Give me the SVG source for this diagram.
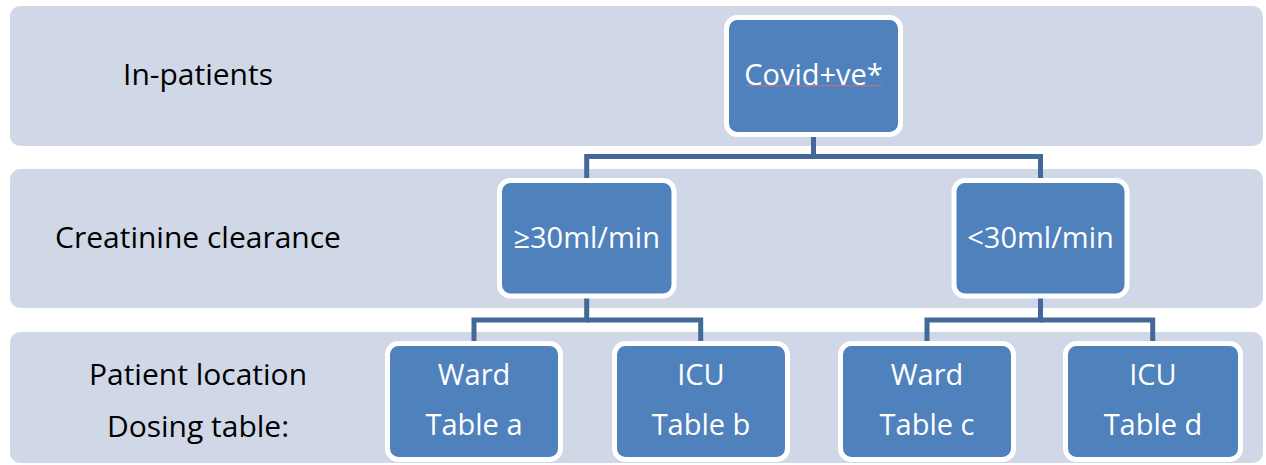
<svg xmlns="http://www.w3.org/2000/svg" width="1266" height="465" viewBox="0 0 1266 465">
<style>
.band{fill:#D0D8E8}
.lbl{font-family:"Open Sans","Noto Sans","Liberation Sans",sans-serif;font-size:30px;fill:#000;text-anchor:middle}
.box{fill:#4F81BD;stroke:#FFFFFF;stroke-width:5}
.txt{font-family:"Open Sans","Noto Sans","Liberation Sans",sans-serif;font-size:29px;fill:#FFFFFF;text-anchor:middle}
.con{fill:none;stroke:#42699A;stroke-width:5;stroke-linejoin:miter}
</style>
<rect width="1266" height="465" fill="#FFFFFF"/>
<g id="bands">
<rect class="band" x="10" y="6" width="1253" height="140" rx="10"/>
<rect class="band" x="10" y="169" width="1253" height="139" rx="10"/>
<rect class="band" x="10" y="332" width="1253" height="131" rx="10"/>
<text class="lbl" x="198" y="85">In-patients</text>
<text class="lbl" x="198" y="248">Creatinine clearance</text>
<text class="lbl" x="198" y="385">Patient location</text>
<text class="lbl" x="198" y="437">Dosing table:</text>
</g>
<g id="connectors">
<path class="con" d="M813.5 137 V156.5 H1040.5 V178"/>
<path class="con" d="M813.5 156.5 H586.7 V178"/>
<path class="con" d="M586.7 298 V320 H474 V341"/>
<path class="con" d="M586.7 320 H700.7 V341"/>
<path class="con" d="M1040.5 298 V320 H927 V341"/>
<path class="con" d="M1040.5 320 H1152.7 V341"/>
</g>
<g id="node-covid">
<rect class="box" x="726.5" y="17.5" width="174" height="117" rx="11"/>
<text class="txt" x="813.5" y="85">Covid+ve*</text>
<line x1="746" y1="85.8" x2="882" y2="85.8" stroke="#C9748A" stroke-width="1"/>
</g>
<g id="node-ge30">
<rect class="box" x="499.5" y="180.5" width="174.5" height="115.5" rx="11"/>
<text class="txt" x="586.7" y="248">≥30ml/min</text>
</g>
<g id="node-lt30">
<rect class="box" x="954" y="180.5" width="173" height="115.5" rx="11"/>
<text class="txt" x="1040.5" y="248">&lt;30ml/min</text>
</g>
<g id="node-ward-a">
<rect class="box" x="387.5" y="343.5" width="173" height="116" rx="11"/>
<text class="txt" x="474" y="385">Ward</text>
<text class="txt" x="474" y="435">Table a</text>
</g>
<g id="node-icu-b">
<rect class="box" x="614.5" y="343.5" width="173" height="116" rx="11"/>
<text class="txt" x="701" y="385">ICU</text>
<text class="txt" x="701" y="435">Table b</text>
</g>
<g id="node-ward-c">
<rect class="box" x="840.5" y="343.5" width="173" height="116" rx="11"/>
<text class="txt" x="927" y="385">Ward</text>
<text class="txt" x="927" y="435">Table c</text>
</g>
<g id="node-icu-d">
<rect class="box" x="1065.5" y="343.5" width="175" height="116" rx="11"/>
<text class="txt" x="1153" y="385">ICU</text>
<text class="txt" x="1153" y="435">Table d</text>
</g>
</svg>
